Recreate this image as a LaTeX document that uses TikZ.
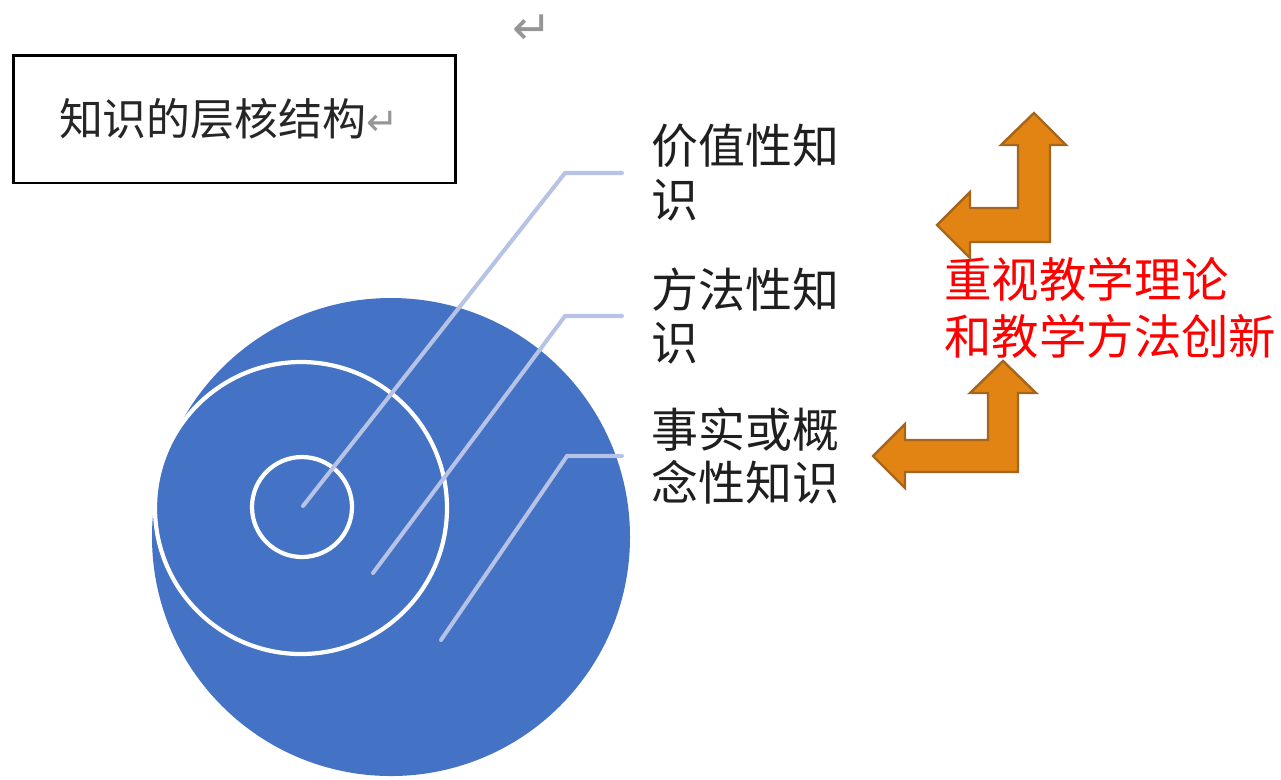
\documentclass[tikz,border=0pt]{standalone}
\usepackage{fontspec}
\usepackage{xcolor}
\usepackage{tikz}
\newfontfamily\cjk{Noto Sans CJK SC}
\newfontfamily\arrowsym{DejaVu Sans}
\definecolor{coreBlue}{RGB}{68,114,196}
\definecolor{leaderBlue}{RGB}{182,195,230}
\definecolor{arrowOrange}{RGB}{226,132,20}
\definecolor{arrowEdge}{RGB}{166,101,28}
\definecolor{markGray}{RGB}{150,150,150}
\usetikzlibrary{positioning, calc}

\begin{document}
\begin{tikzpicture}[
    x=0.02cm, y=-0.02cm,
    lab/.style={anchor=west, align=left, inner xsep=0.58cm, inner ysep=0pt, text=black!88, font=\cjk\fontsize{26.7}{30.7}\selectfont},
    ring/.style={draw=white, line width=2.4pt},
    leader/.style={draw=leaderBlue, line width=2.3pt, line cap=round},
    bent/.style={fill=arrowOrange, draw=arrowEdge, line width=1.4pt, line join=miter},
    titlebox/.style={draw, line width=1.7pt, minimum width=8.86cm, minimum height=2.56cm, text width=7.02cm, align=left, text=black!85, font=\cjk\fontsize{25}{30}\selectfont}
]
    \useasboundingbox (0,0) rectangle (1281,779);

    \node[text=markGray, font=\arrowsym\fontsize{27}{30}\selectfont] (mark) at (532,30) {↵};
    \node[titlebox] (title) at (234.5,119) {知识的层核结构{\color{markGray}\arrowsym\fontsize{22}{24}\selectfont ↵}};

    \fill[coreBlue] (391,537) circle (239);
    \draw[ring] (301,508) circle (146);
    \draw[ring] (302,507) circle (50);

    \coordinate (core) at (303,506);
    \coordinate (middle) at (373,573);
    \coordinate (outer) at (441,640);

    \node[lab] (value) at (622,173) {价值性知\\识};
    \node[lab] (method) at (622,316) {方法性知\\识};
    \node[lab] (fact) at (622,456) {事实或概\\念性知识};

    \draw[leader] (value.west) -- ++(-57,0) -- (core);
    \draw[leader] (method.west) -- ++(-57,0) -- (middle);
    \draw[leader] (fact.west) -- ++(-55,0) -- (outer);

    \node[anchor=west, align=left, inner sep=0pt, text=red, font=\cjk\fontsize{27}{32.4}\selectfont] (reform) at (944,308) {重视教学理论\\和教学方法创新};

    \draw[bent] (1034,113) -- (1066,145) -- (1050,145) -- (1050,242) -- (970,242) -- (970,258)
        -- (937,225) -- (970,192) -- (970,208) -- (1018,208) -- (1018,145) -- (1001,145) -- cycle;
    \draw[bent] (1003,361) -- (1036,393) -- (1018,393) -- (1018,472) -- (905,472) -- (905,488)
        -- (873,456) -- (905,424) -- (905,440) -- (988,440) -- (988,393) -- (970,393) -- cycle;
\end{tikzpicture}
\end{document}
